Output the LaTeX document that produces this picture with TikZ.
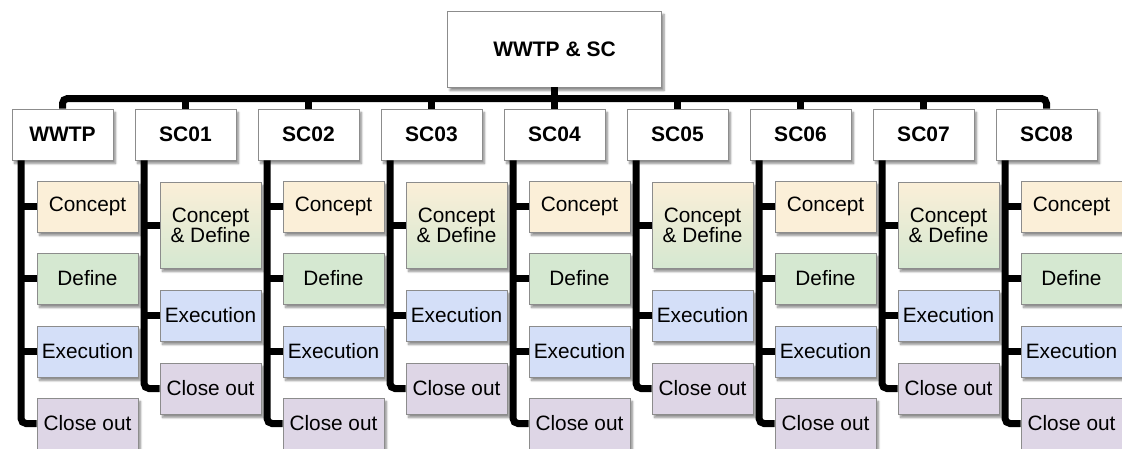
\documentclass[tikz,border=0pt]{standalone}
\usepackage{fontspec}
\setmainfont{Liberation Sans}
\usetikzlibrary{calc,shadows.blur}

\definecolor{conceptc}{HTML}{FBEFD8}
\definecolor{definec}{HTML}{D5E8D1}
\definecolor{execc}{HTML}{D4DFF8}
\definecolor{closec}{HTML}{DED6E6}
\definecolor{framec}{HTML}{8C8C8C}

\tikzset{
  box/.style={draw=framec, line width=0.9pt, fill=white, inner sep=0pt,
    minimum width=101pt, minimum height=51pt, align=center,
    blur shadow={shadow xshift=2.5pt, shadow yshift=-3.5pt,
      shadow blur steps=6, shadow opacity=45}},
  headbox/.style={box, font=\fontsize{21}{21}\bfseries\selectfont},
  phase/.style={box, font=\fontsize{20.8}{20}\selectfont},
  conceptbox/.style={phase, fill=conceptc},
  definebox/.style={phase, fill=definec},
  execbox/.style={phase, fill=execc},
  closebox/.style={phase, fill=closec},
  cdbox/.style={phase, top color=conceptc, bottom color=definec,
    minimum height=86pt},
  conn/.style={line width=7pt, black},
  spine/.style={conn, rounded corners=5pt},
}

\begin{document}
\begin{tikzpicture}[x=1pt,y=-1pt]
\useasboundingbox (0,0) rectangle (1122,448);

% root
\node[headbox, minimum width=214pt, minimum height=76pt] (top) at (554.5,49) {WWTP \& SC};
\coordinate (bus) at (0,98.5);

% second level and phase boxes
\foreach \name/\lab [count=\i from 0] in
  {wwtp/WWTP, sc01/SC01, sc02/SC02, sc03/SC03, sc04/SC04,
   sc05/SC05, sc06/SC06, sc07/SC07, sc08/SC08} {
  \pgfmathsetmacro\cx{62.5+123*\i}
  \pgfmathsetmacro\px{87.5+123*\i}
  \node[headbox] (\name) at (\cx,134.5) {\lab};
  \ifodd\i
    \node[cdbox]    (\name-cd) at (\px,225)   {Concept\\\& Define};
    \node[execbox]  (\name-e)  at (\px,315.5) {Execution};
    \node[closebox] (\name-x)  at (\px,388.5) {Close out};
    \draw[conn] (\name-cd.west) -- ++(-19,0);
    \draw[conn] (\name-e.west) -- ++(-19,0);
  \else
    \node[conceptbox] (\name-c) at (\px,206.5) {Concept};
    \node[definebox]  (\name-d) at (\px,278.5) {Define};
    \node[execbox]    (\name-e) at (\px,351.5) {Execution};
    \node[closebox]   (\name-x) at (\px,423.5) {Close out};
    \draw[conn] (\name-c.west) -- ++(-19,0);
    \draw[conn] (\name-d.west) -- ++(-19,0);
    \draw[conn] (\name-e.west) -- ++(-19,0);
  \fi
  \draw[spine] ($(\name.south west)+(9.5,0)$) |- (\name-x.west);
}

% bus from the root to every second-level box
\draw[conn] (top.south) -- (top.south |- bus);
\draw[spine] (wwtp.north) -- (wwtp.north |- bus) -| (sc08.north);
\foreach \name in {sc01,sc02,sc03,sc04,sc05,sc06,sc07}
  \draw[conn] (\name.north) -- (\name.north |- bus);
\end{tikzpicture}
\end{document}
